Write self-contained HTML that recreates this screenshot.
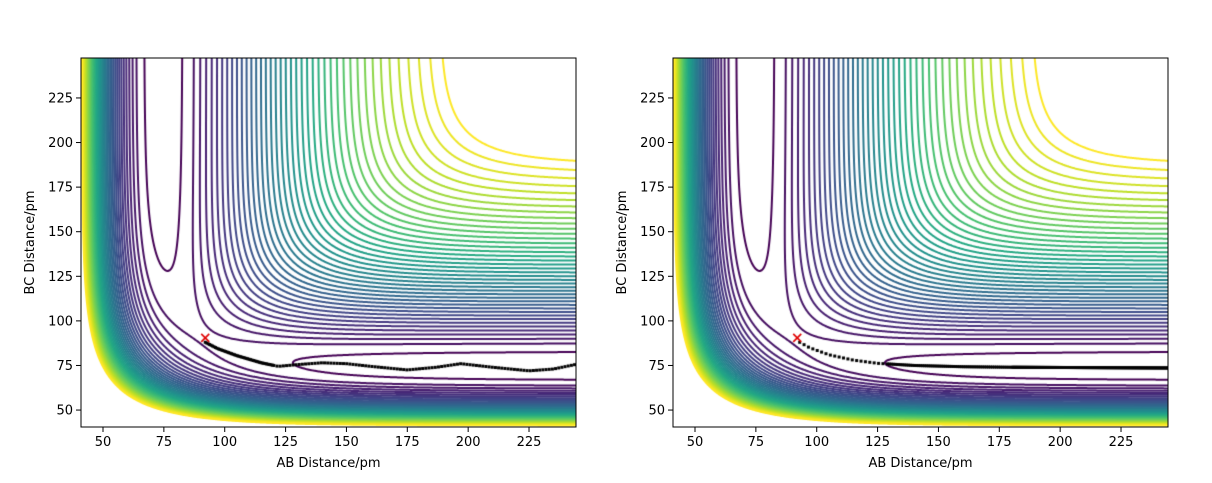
<!DOCTYPE html>
<html><head><meta charset="utf-8"><style>
body{margin:0;background:#fff;}
#wrap{position:relative;width:1212px;height:483px;overflow:hidden;}
canvas,svg{position:absolute;left:0;top:0;}
text{font-family:"DejaVu Sans","Liberation Sans",sans-serif;font-size:13px;fill:#000;}
</style></head><body><div id="wrap">
<canvas id="c" width="1212" height="483"></canvas>
<svg id="s" width="1212" height="483"></svg>
</div>
<script>
const XMIN=40.96,XMAX=244.3,YMIN=40.5,YMAX=247.4;
const AX=[81,673],AW=495,AT=58,AB=427;
function px(ox,x){return ox+(x-XMIN)/(XMAX-XMIN)*AW;}
function py(y){return AB-(y-YMIN)/(YMAX-YMIN)*(AB-AT);}
const D=4.746,BE=1.942,R0=0.7417,S=0.18;
function QJ(r){const u=BE*(r-R0),e1=Math.exp(-u),e2=e1*e1,f=D/(4*(1+S));
return [f*((3+S)*e2-(2+6*S)*e1), f*((1+3*S)*e2-(6+2*S)*e1)];}
function V(a,b){a/=100;b/=100;const c=a+b;const A=QJ(a),B=QJ(b),C=QJ(c);
const ja=A[1],jb=B[1],jc=C[1];
return A[0]+B[0]+C[0]-Math.sqrt(Math.max(0,ja*ja+jb*jb+jc*jc-ja*jb-jb*jc-ja*jc));}
const stops=[[0x44,0x01,0x54],[0x48,0x24,0x75],[0x41,0x44,0x87],[0x35,0x5f,0x8d],[0x2a,0x78,0x8e],[0x21,0x91,0x8c],[0x22,0xa8,0x84],[0x44,0xbf,0x70],[0x7a,0xd1,0x51],[0xbd,0xdf,0x26],[0xfd,0xe7,0x25]];
function vir(t){t=Math.max(0,Math.min(1,t))*10;const i=Math.min(9,Math.floor(t)),f=t-i;const a=stops[i],b=stops[i+1];
return `rgb(${a.map((v,k)=>Math.round(v+(b[k]-v)*f)).join(',')})`;}
const NX=420,NY=420,G=[];
const gx=i=>XMIN+(XMAX-XMIN)*i/(NX-1), gy=j=>YMIN+(YMAX-YMIN)*j/(NY-1);
for(let j=0;j<NY;j++){const row=new Float64Array(NX);for(let i=0;i<NX;i++)row[i]=V(gx(i),gy(j));G.push(row);}
let Vts=1e9;for(let r=60;r<150;r+=0.1)Vts=Math.min(Vts,V(r,r));
let Lu=1e9;for(let r=50;r<110;r+=0.1)Lu=Math.min(Lu,V(r,128));
const L1=-0.98;
const levels=[Lu];
const L2=Vts+0.015;const NU=40;
for(let k=0;k<NU;k++)levels.push(L2+(L1-L2)*k/(NU-1));
const NL=levels.length;
const ctx=document.getElementById('c').getContext('2d');
function drawContours(ox){
ctx.save();ctx.beginPath();ctx.rect(ox,AT,AW,AB-AT);ctx.clip();
ctx.lineWidth=2;ctx.lineCap='round';
for(let k=0;k<NL;k++){const L=levels[k];ctx.strokeStyle=vir((L-levels[0])/(levels[NL-1]-levels[0]));ctx.beginPath();
for(let j=0;j<NY-1;j++){for(let i=0;i<NX-1;i++){
const a=G[j][i],b=G[j][i+1],c=G[j+1][i+1],d=G[j+1][i];
const pts=[];
function e(v1,v2,x1,y1,x2,y2){if((v1<L)!==(v2<L)){const t=(L-v1)/(v2-v1);pts.push([x1+(x2-x1)*t,y1+(y2-y1)*t]);}}
e(a,b,i,j,i+1,j);e(b,c,i+1,j,i+1,j+1);e(c,d,i+1,j+1,i,j+1);e(d,a,i,j+1,i,j);
for(let p=0;p+1<pts.length;p+=2){
ctx.moveTo(px(ox,gx(pts[p][0])),py(gy(pts[p][1])));ctx.lineTo(px(ox,gx(pts[p+1][0])),py(gy(pts[p+1][1])));}
}}ctx.stroke();}
ctx.restore();}
drawContours(AX[0]);drawContours(AX[1]);
function interp(pts,x){for(let k=0;k<pts.length-1;k++){if(x>=pts[k][0]&&x<=pts[k+1][0]){const t=(x-pts[k][0])/(pts[k+1][0]-pts[k][0]);return pts[k][1]+(pts[k+1][1]-pts[k][1])*t;}}return pts[pts.length-1][1];}
function dots(ox,pts,step){ctx.fillStyle='#000';ctx.save();ctx.beginPath();ctx.rect(ox,AT,AW,AB-AT);ctx.clip();
for(let x=pts[0][0];x<=245;x+=step(x)){const X=px(ox,x),Y=py(interp(pts,x));ctx.fillRect(X-1.5,Y-1.5,3,3);}ctx.restore();}
dots(AX[0],[[92,88],[97,84.5],[105,80.5],[115,76.5],[122,74.5],[130,75.5],[140,76.5],[150,76],[160,74.5],[175,72.5],[187,74],[197,76],[210,74],[225,72],[235,73],[245,75.8]],x=>x<120?0.6:1.3);
dots(AX[1],[[93,88],[97,85],[105,81],[115,78],[125,76.2],[140,75],[160,74.3],[180,74],[245,73.6]],x=>x<128?1.8:(x<180?0.8:0.4));
ctx.strokeStyle='#e00000';ctx.lineWidth=1.6;
for(const ox of AX){const cx=px(ox,92),cy=py(90.5);ctx.beginPath();ctx.moveTo(cx-4,cy-4);ctx.lineTo(cx+4,cy+4);ctx.moveTo(cx+4,cy-4);ctx.lineTo(cx-4,cy+4);ctx.stroke();}
const s=document.getElementById('s');let h='';
for(const ox of AX){
h+=`<rect x="${ox}" y="${AT}" width="${AW}" height="${AB-AT}" fill="none" stroke="#000" stroke-width="1"/>`;
for(let v=50;v<=225;v+=25){const X=px(ox,v),Y=py(v);
h+=`<line x1="${X}" y1="${AB}" x2="${X}" y2="${AB+5}" stroke="#000"/>`;
h+=`<text x="${X}" y="${AB+19}" text-anchor="middle">${v}</text>`;
h+=`<line x1="${ox}" y1="${Y}" x2="${ox-5}" y2="${Y}" stroke="#000"/>`;
h+=`<text x="${ox-8}" y="${Y+4.5}" text-anchor="end">${v}</text>`;}
h+=`<text x="${ox+AW/2}" y="467" text-anchor="middle">AB Distance/pm</text>`;
h+=`<text transform="translate(${ox-47},${(AT+AB)/2}) rotate(-90)" text-anchor="middle">BC Distance/pm</text>`;}
s.innerHTML=h;
</script></body></html>
